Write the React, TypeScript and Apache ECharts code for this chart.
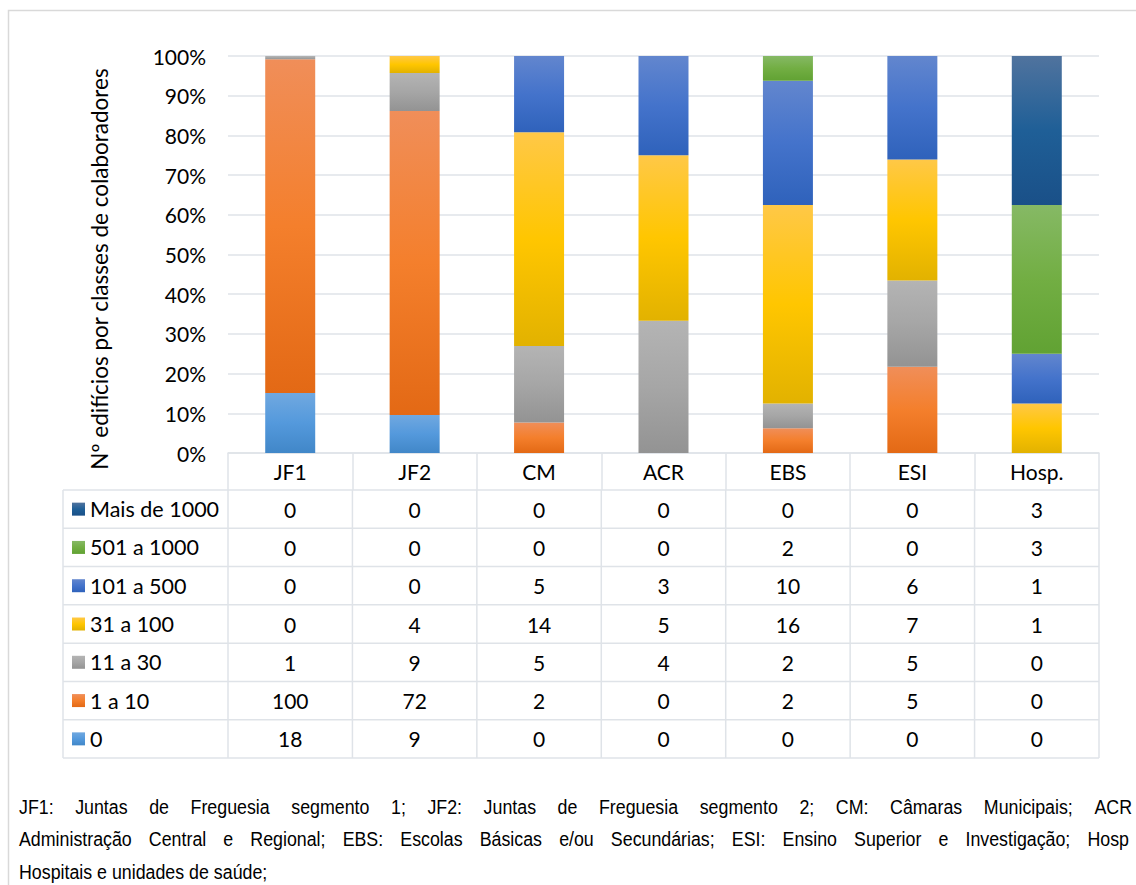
import React, { useEffect, useRef } from "react";
import * as echarts from "echarts";

const categories = ["JF1", "JF2", "CM", "ACR", "EBS", "ESI", "Hosp."];
// stack order bottom -> top
const seriesNames = ["0", "1 a 10", "11 a 30", "31 a 100", "101 a 500", "501 a 1000", "Mais de 1000"];
const v0 = [18, 9, 0, 0, 0, 0, 0];
const v1a10 = [100, 72, 2, 0, 2, 5, 0];
const v11a30 = [1, 9, 5, 4, 2, 5, 0];
const v31a100 = [0, 4, 14, 5, 16, 7, 1];
const v101a500 = [0, 0, 5, 3, 10, 6, 1];
const v501a1000 = [0, 0, 0, 0, 2, 0, 3];
const vMais1000 = [0, 0, 0, 0, 0, 0, 3];
const seriesValues = [v0, v1a10, v11a30, v31a100, v101a500, v501a1000, vMais1000];

const yTicks = [0, 10, 20, 30, 40, 50, 60, 70, 80, 90, 100];
const yAxisTitle = "Nº edifícios por classes de colaboradores";

const footLines = [
  "JF1: Juntas de Freguesia segmento 1; JF2: Juntas de Freguesia segmento 2; CM: Câmaras Municipais; ACR",
  "Administração Central e Regional; EBS: Escolas Básicas e/ou Secundárias; ESI: Ensino Superior e Investigação; Hosp",
  "Hospitais e unidades de saúde;",
];

const palette = [
  ["#70a8e0", "#5499dc", "#4187c8"],
  ["#f08e59", "#f47f2c", "#e36915"],
  ["#b4b4b4", "#a6a6a6", "#939393"],
  ["#ffc847", "#ffc600", "#e2b200"],
  ["#6286ce", "#4473cb", "#2f62bb"],
  ["#86b965", "#72ae43", "#61a233"],
  ["#50739e", "#1f5f97", "#1a5088"],
];

const grad = (c: string[]) => ({
  type: "linear",
  x: 0,
  y: 0,
  x2: 0,
  y2: 1,
  colorStops: [
    { offset: 0, color: c[0] },
    { offset: 0.5, color: c[1] },
    { offset: 1, color: c[2] },
  ],
});

const FONT = "Lato";
const LINE = "#dfe3e8";

export default function App() {
  const ref = useRef<HTMLDivElement>(null);
  useEffect(() => {
    document.body.style.margin = "0";
    const chart = echarts.init(ref.current!, null, { renderer: "svg" });
    const totals = categories.map((_, i) => seriesValues.reduce((s, arr) => s + arr[i], 0));

    chart.setOption({
      animation: false,
      grid: { left: 228, right: 37, top: 56, bottom: 432 },
      xAxis: {
        type: "category",
        data: categories,
        boundaryGap: true,
        axisLine: { show: true, lineStyle: { color: LINE, width: 1.5 } },
        axisTick: { show: true, length: 37, lineStyle: { color: LINE, width: 1.5 } },
        axisLabel: { fontFamily: FONT, fontSize: 21, color: "#000", margin: 8, lineHeight: 21 },
      },
      yAxis: {
        type: "value",
        min: 0,
        max: 100,
        interval: 10,
        axisLine: { show: false },
        axisTick: { show: false },
        splitLine: { lineStyle: { color: LINE, width: 1.5 } },
        axisLabel: {
          fontFamily: FONT,
          fontSize: 21,
          color: "#000",
          margin: 22,
          formatter: (v: number) => (yTicks.includes(v) ? v + "%" : ""),
        },
      },
      series: seriesNames.map((name, si) => ({
        name,
        type: "bar",
        stack: "total",
        barWidth: 50,
        data: seriesValues[si].map((v, i) => (totals[i] ? (v / totals[i]) * 100 : 0)),
        itemStyle: { color: grad(palette[si]) },
      })),
    });

    // ---- data table ----
    const colCenters = categories.map((_, i) => chart.convertToPixel({ xAxisIndex: 0 }, i) as number);
    const colW = colCenters.length > 1 ? colCenters[1] - colCenters[0] : 124;
    const tableLeft = 63;
    const gridLeft = colCenters[0] - colW / 2;
    const gridRight = colCenters[colCenters.length - 1] + colW / 2;
    const headerBottom = 490;
    const tableBottom = 758;
    const rowH = (tableBottom - headerBottom) / seriesNames.length;

    const g: any[] = [];
    // outer frame
    g.push({
      type: "rect",
      shape: { x: 8.5, y: 10.5, width: 1300, height: 1000 },
      style: { fill: "none", stroke: "#d9d9d9", lineWidth: 1.5 },
      z: -10,
    });
    // y axis title
    g.push({
      type: "text",
      x: 99,
      y: 269,
      rotation: Math.PI / 2,
      style: {
        text: yAxisTitle,
        fontFamily: FONT,
        fontSize: 22.5,
        fill: "#000",
        align: "center",
        verticalAlign: "middle",
      },
    });
    // horizontal lines
    for (let r = 0; r <= seriesNames.length; r++) {
      const y = headerBottom + r * rowH;
      g.push({
        type: "line",
        shape: { x1: tableLeft, y1: y, x2: gridRight, y2: y },
        style: { stroke: LINE, lineWidth: 1.5 },
      });
    }
    // vertical lines
    g.push({
      type: "line",
      shape: { x1: tableLeft, y1: headerBottom, x2: tableLeft, y2: tableBottom },
      style: { stroke: LINE, lineWidth: 1.5 },
    });
    for (let k = 0; k <= categories.length; k++) {
      const x = gridLeft + k * colW;
      g.push({
        type: "line",
        shape: { x1: x, y1: headerBottom, x2: x, y2: tableBottom },
        style: { stroke: LINE, lineWidth: 1.5 },
      });
    }
    // rows (top row = last series)
    const rowOrder = seriesNames.map((_, i) => seriesNames.length - 1 - i);
    rowOrder.forEach((si, r) => {
      const cy = headerBottom + r * rowH + rowH / 2;
      g.push({
        type: "rect",
        shape: { x: 72, y: cy - 6.5, width: 13, height: 13 },
        style: { fill: grad(palette[si]) },
      });
      g.push({
        type: "text",
        x: 90,
        y: cy,
        style: {
          text: seriesNames[si],
          fontFamily: FONT,
          fontSize: 21.5,
          fill: "#000",
          align: "left",
          verticalAlign: "middle",
        },
      });
      seriesValues[si].forEach((v, i) => {
        g.push({
          type: "text",
          x: colCenters[i],
          y: cy,
          style: {
            text: String(v),
            fontFamily: FONT,
            fontSize: 21,
            fill: "#000",
            align: "center",
            verticalAlign: "middle",
          },
        });
      });
    });

    // ---- footnote (justified) ----
    const footSize = 20;
    const footScale = 0.89;
    const footFont = `${footSize}px "Liberation Sans"`;
    const cv = document.createElement("canvas");
    const ctx = cv.getContext("2d")!;
    ctx.font = footFont;
    const mw = (s: string) => ctx.measureText(s).width * footScale;
    const footX = 19;
    const footYs = [807, 839.5, 872];
    const lastEnds = [1132, 1129];
    footLines.forEach((line, li) => {
      const words = line.split(" ");
      if (li < 2) {
        const last = words[words.length - 1];
        const lastStart = lastEnds[li] - mw(last);
        const innerWidth = words.slice(0, -1).reduce((s, w) => s + mw(w), 0);
        const gaps = words.length - 1;
        const gap = (lastStart - footX - innerWidth) / gaps;
        let x = footX;
        words.forEach((w, wi) => {
          g.push({
            type: "text",
            x: wi === words.length - 1 ? lastStart : x,
            y: footYs[li],
            scaleX: footScale,
            style: {
              text: w,
              fontFamily: "Liberation Sans",
              fontSize: footSize,
              fill: "#000",
              align: "left",
              verticalAlign: "middle",
            },
          });
          x += mw(w) + gap;
        });
      } else {
        g.push({
          type: "text",
          x: footX,
          y: footYs[li],
          scaleX: footScale,
          style: {
            text: line,
            fontFamily: "Liberation Sans",
            fontSize: footSize,
            fill: "#000",
            align: "left",
            verticalAlign: "middle",
          },
        });
      }
    });

    chart.setOption({ graphic: g });
    return () => chart.dispose();
  }, []);

  return <div ref={ref} style={{ width: 1136, height: 885 }} />;
}
